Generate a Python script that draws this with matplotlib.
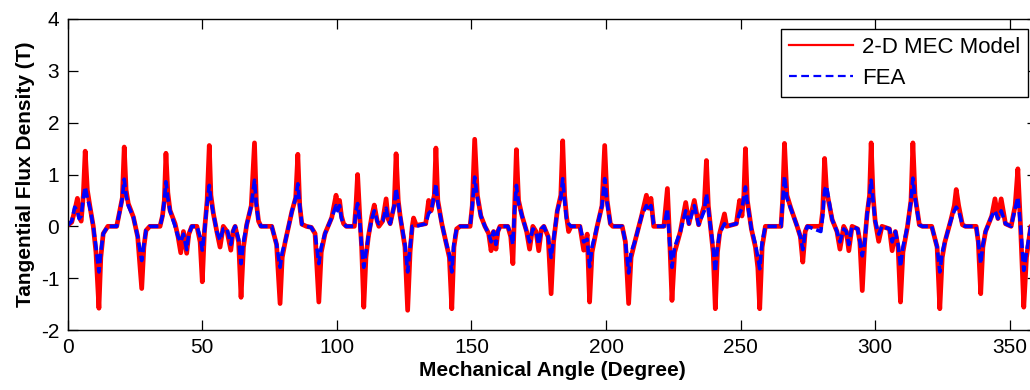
import matplotlib
matplotlib.use("Agg")
import matplotlib.pyplot as plt
from matplotlib.lines import Line2D

plt.rcParams['font.family'] = ['Liberation Sans', 'DejaVu Sans']
plt.rcParams['axes.unicode_minus'] = False

# Mechanical angle (degree) sample positions
angle = [
    0.0, 1.5, 2.6, 3.6, 4.2, 5.0, 5.8, 6.5, 7.3, 8.3, 9.5, 10.5, 11.6, 12.3, 13.2, 14.9,
    18.2, 19.4, 20.3, 21.0, 21.7, 22.5, 24.4, 26.0, 27.5, 28.3, 29.1, 30.5,
    34.3, 35.2, 35.9, 36.5, 37.2, 38.0, 39.9, 41.0, 42.0, 43.0, 44.2, 45.0, 46.1,
    48.0, 49.2, 50.0, 50.8, 51.8, 52.6, 53.2, 54.1, 55.4, 56.6, 57.8, 59.2, 60.6,
    61.4, 62.2, 63.5, 64.4, 65.3, 66.5, 68.2, 69.4, 70.1, 70.9, 71.8,
    75.8, 77.6, 78.9, 79.7, 80.8, 83.3, 84.7, 85.5, 86.2, 87.0, 88.7, 90.5, 91.9,
    93.3, 94.2, 95.6, 98.1, 99.7, 100.3, 101.0, 101.7, 102.5, 103.5,
    106.5, 107.1, 107.7, 108.5, 109.2, 110.0, 110.8, 111.7, 113.0, 113.9, 115.0,
    115.6, 117.0, 118.3, 119.0, 119.8, 121.3, 122.0, 122.8, 123.5, 125.3, 126.3,
    127.2, 128.0, 128.5, 129.5, 133.0, 134.1, 135.0, 136.2, 136.8, 137.5, 139.0,
    140.5, 141.8, 142.7, 143.5, 144.5, 145.8, 149.5, 150.3, 151.2, 152.2, 153.5,
    155.0, 156.4, 157.3, 158.2, 159.1, 159.8, 160.6, 163.5, 164.6, 165.4, 166.0,
    166.7, 167.5, 168.8, 170.5, 171.6, 172.8, 174.0, 175.0, 176.0, 176.9, 178.5,
    179.6, 180.5, 181.9, 183.2, 183.9, 184.6, 185.3, 186.1, 187.0, 190.3, 191.7,
    193.0, 193.9, 194.8, 196.7, 198.5, 199.5, 200.4, 201.6, 202.5, 206.0, 207.2,
    208.4, 209.3, 210.7, 213.2, 215.0, 215.8, 216.7, 217.7, 218.5, 221.5, 222.8,
    223.6, 224.5, 225.5, 227.6, 229.6, 230.8, 232.8, 234.4, 236.5, 237.3, 238.0,
    238.8, 239.8, 240.6, 241.4, 242.2, 244.0, 244.8, 248.4, 249.6, 250.5, 251.2,
    251.8, 252.5, 254.0, 255.5, 256.4, 257.1, 258.0, 259.2, 265.0, 265.6, 266.3,
    267.2, 268.6, 271.0, 272.2, 273.1, 274.0, 274.8, 279.8, 280.5, 281.2, 281.9,
    284.0, 285.8, 286.9, 288.3, 289.3, 290.2, 291.4, 293.5, 294.3, 295.2, 296.1,
    297.0, 297.9, 298.5, 299.2, 300.0, 301.3, 302.5, 305.3, 306.3, 307.5, 308.5,
    309.4, 310.3, 312.0, 313.3, 314.0, 314.8, 316.4, 317.5, 321.0, 323.0, 324.0,
    324.9, 325.9, 328.0, 329.4, 330.1, 331.0, 332.4, 333.5, 337.5, 338.3, 339.2,
    340.0, 341.0, 343.3, 344.5, 345.6, 346.8, 348.4, 350.5, 352.0, 353.0, 354.0,
    355.2, 356.2, 357.8, 360.0,
]

# 2-D MEC Model (red, solid)
mec_model = [
    0.02, 0.08, 0.30, 0.54, 0.20, 0.10, 0.60, 1.45, 0.70, 0.37, 0.00, -0.50, -1.58, -0.60, -0.14, 0.00,
    0.00, 0.31, 0.55, 1.53, 0.70, 0.44, 0.18, -0.20, -1.20, -0.40, -0.08, 0.00,
    0.00, 0.20, 0.50, 1.41, 0.65, 0.31, 0.05, -0.20, -0.51, -0.10, -0.52, -0.15, 0.00,
    0.00, -0.30, -1.07, -0.10, 0.50, 1.56, 0.60, 0.25, -0.10, -0.40, 0.00, -0.10, -0.46,
    -0.10, 0.00, -0.30, -1.37, -0.40, 0.03, 0.40, 1.61, 0.45, 0.10, 0.00,
    0.00, -0.35, -1.49, -0.60, -0.30, 0.29, 0.55, 1.39, 0.40, 0.04, 0.00, -0.02, -0.14,
    -1.46, -0.50, -0.14, 0.17, 0.60, 0.40, 0.50, 0.20, 0.05, 0.00,
    0.00, 0.40, 1.00, 0.20, -0.40, -1.56, -0.60, -0.20, 0.20, 0.41, 0.10,
    0.00, 0.10, 0.53, 0.15, 0.05, 0.40, 1.40, 0.50, 0.20, -0.40, -1.62,
    -0.50, 0.00, 0.16, 0.02, 0.05, 0.50, 0.30, 0.60, 1.51, 0.50, 0.05,
    -0.30, -0.60, -1.59, -0.40, -0.05, 0.00, 0.00, 0.40, 1.68, 0.60, 0.20,
    0.00, -0.14, -0.47, -0.10, -0.44, -0.10, 0.00, 0.00, -0.20, -0.72, 0.30,
    1.48, 0.50, 0.20, -0.10, -0.44, 0.00, -0.10, -0.47, -0.05, 0.00, -0.20,
    -1.30, -0.30, 0.30, 0.60, 1.65, 0.60, 0.20, -0.10, 0.00, 0.00, -0.46,
    -0.15, -1.46, -0.50, 0.00, 0.40, 1.56, 0.50, 0.05, 0.00, 0.00, -0.30,
    -1.49, -0.60, -0.30, 0.20, 0.60, 0.35, 0.54, 0.00, 0.00, 0.00, 0.73,
    -0.20, -1.43, -0.50, -0.10, 0.46, 0.05, 0.50, 0.03, 0.40, 1.27, 0.40,
    0.00, -0.50, -1.59, -0.50, -0.14, 0.24, 0.00, 0.05, 0.50, 0.20, 0.60,
    1.50, 0.50, -0.05, -0.40, -0.80, -1.59, -0.40, 0.00, 0.00, 0.50, 1.60,
    0.60, 0.36, 0.00, -0.20, -0.69, -0.10, 0.00, 0.00, 0.30, 1.31, 0.70,
    0.13, -0.10, -0.44, 0.00, -0.10, -0.47, 0.00, -0.05, -0.30, -1.24, -0.30,
    0.24, 0.60, 1.61, 0.60, 0.10, -0.29, 0.00, -0.05, -0.47, -0.10, -0.40,
    -1.46, -0.50, 0.00, 0.50, 1.61, 0.60, 0.03, 0.00, 0.00, -0.40, -1.59,
    -0.60, -0.30, 0.10, 0.40, 0.71, 0.40, 0.03, 0.00, 0.00, -0.30, -1.30,
    -0.40, -0.10, 0.20, 0.53, 0.15, 0.53, 0.05, 0.00, 0.40, 1.11, 0.00,
    -1.56, -0.60, 0.00, 0.05,
]

# FEA (blue, dashed)
fea = [
    0.02, 0.10, 0.37, 0.30, 0.15, 0.20, 0.55, 0.76, 0.55, 0.35, 0.00, -0.40, -0.88, -0.50, -0.14, 0.00,
    0.00, 0.30, 0.55, 0.91, 0.60, 0.40, 0.18, -0.20, -0.66, -0.35, -0.08, 0.00,
    0.00, 0.20, 0.50, 0.86, 0.55, 0.30, 0.00, -0.20, -0.30, -0.15, -0.45, -0.15, 0.00,
    0.00, -0.20, -0.46, -0.10, 0.45, 0.79, 0.50, 0.25, -0.10, -0.27, -0.05, -0.05, -0.35,
    -0.10, 0.00, -0.25, -0.72, -0.30, 0.03, 0.40, 0.89, 0.40, 0.10, 0.00,
    0.00, -0.35, -0.79, -0.50, -0.30, 0.29, 0.55, 0.82, 0.40, 0.04, 0.00, -0.02, -0.14,
    -0.72, -0.40, -0.14, 0.17, 0.40, 0.30, 0.40, 0.15, 0.05, 0.00,
    0.00, 0.30, 0.44, 0.10, -0.40, -0.79, -0.50, -0.20, 0.15, 0.30, 0.10,
    0.05, 0.10, 0.35, 0.15, 0.05, 0.40, 0.73, 0.45, 0.20, -0.35, -0.88,
    -0.40, 0.00, 0.00, 0.00, 0.05, 0.25, 0.30, 0.60, 0.82, 0.45, 0.05,
    -0.30, -0.55, -0.88, -0.30, -0.05, 0.00, 0.00, 0.40, 0.95, 0.55, 0.20,
    0.00, -0.14, -0.30, -0.10, -0.35, -0.10, 0.00, 0.00, -0.15, -0.35, 0.30,
    0.79, 0.45, 0.20, -0.10, -0.30, -0.05, -0.10, -0.35, -0.05, 0.00, -0.20,
    -0.60, -0.25, 0.30, 0.55, 0.92, 0.50, 0.15, 0.05, 0.00, 0.00, -0.30,
    -0.25, -0.78, -0.40, 0.00, 0.40, 0.92, 0.45, 0.05, 0.00, 0.00, -0.30,
    -0.90, -0.50, -0.30, 0.20, 0.40, 0.30, 0.40, 0.05, 0.00, 0.00, 0.34,
    -0.30, -0.79, -0.40, -0.10, 0.30, 0.05, 0.40, 0.03, 0.30, 0.63, 0.35,
    0.00, -0.40, -0.88, -0.40, -0.14, 0.05, 0.00, 0.05, 0.25, 0.35, 0.55,
    0.76, 0.45, -0.05, -0.35, -0.60, -0.82, -0.30, 0.00, 0.00, 0.45, 0.97,
    0.55, 0.35, 0.00, -0.20, -0.45, -0.10, 0.00, -0.10, 0.20, 0.70, 0.78,
    0.13, -0.10, -0.30, -0.05, -0.10, -0.35, 0.00, -0.05, -0.30, -0.57, -0.30,
    0.24, 0.60, 0.89, 0.50, 0.10, -0.15, 0.00, -0.05, -0.30, -0.10, -0.35,
    -0.78, -0.40, 0.00, 0.50, 0.93, 0.55, 0.03, 0.00, 0.00, -0.40, -0.88,
    -0.50, -0.30, 0.10, 0.30, 0.37, 0.30, 0.03, 0.00, 0.00, -0.30, -0.72,
    -0.35, -0.10, 0.20, 0.30, 0.15, 0.30, 0.05, 0.00, 0.35, 0.56, 0.00,
    -0.85, -0.50, 0.00, 0.05,
]

x_ticks = [0, 50, 100, 150, 200, 250, 300, 350]
y_ticks = [-2, -1, 0, 1, 2, 3, 4]

W, H = 1030, 390
fig = plt.figure(figsize=(W / 100, H / 100), dpi=100)
ax = fig.add_axes([67.7 / W, 60 / H, 969 / W, 311 / H])

ax.plot(angle, mec_model, color='#ff0000', lw=3.4, solid_joinstyle='round', label='2-D MEC Model')
ax.plot(angle, fea, color='#0000ff', lw=2.6, dashes=(2.6, 1.1), label='FEA')

ax.set_xlim(0, 360)
ax.set_ylim(-2, 4)
ax.set_xticks(x_ticks)
ax.set_yticks(y_ticks)
ax.tick_params(direction='in', length=7, width=0.9, top=True, right=True,
               labelsize=15, pad=6, colors='black')
for s in ax.spines.values():
    s.set_linewidth(1.0)

ax.set_xlabel('Mechanical Angle (Degree)', fontsize=15, fontweight='bold', labelpad=3)
ax.set_ylabel('Tangential Flux Density (T)', fontsize=15, fontweight='bold', labelpad=4)

handles = [Line2D([], [], color='#ff0000', lw=1.6),
           Line2D([], [], color='#0000ff', lw=1.6, dashes=(3.5, 2.0))]
leg = ax.legend(handles, ['2-D MEC Model', 'FEA'], loc='upper right',
                bbox_to_anchor=(1028 / W, 1 - 29 / H), bbox_transform=fig.transFigure,
                fontsize=16, frameon=True, fancybox=False, edgecolor='black',
                framealpha=1, handlelength=2.9, handletextpad=0.4,
                borderpad=0.35, labelspacing=0.45, borderaxespad=0)
leg.get_frame().set_linewidth(1.0)

fig.savefig('out.png', dpi=100)
